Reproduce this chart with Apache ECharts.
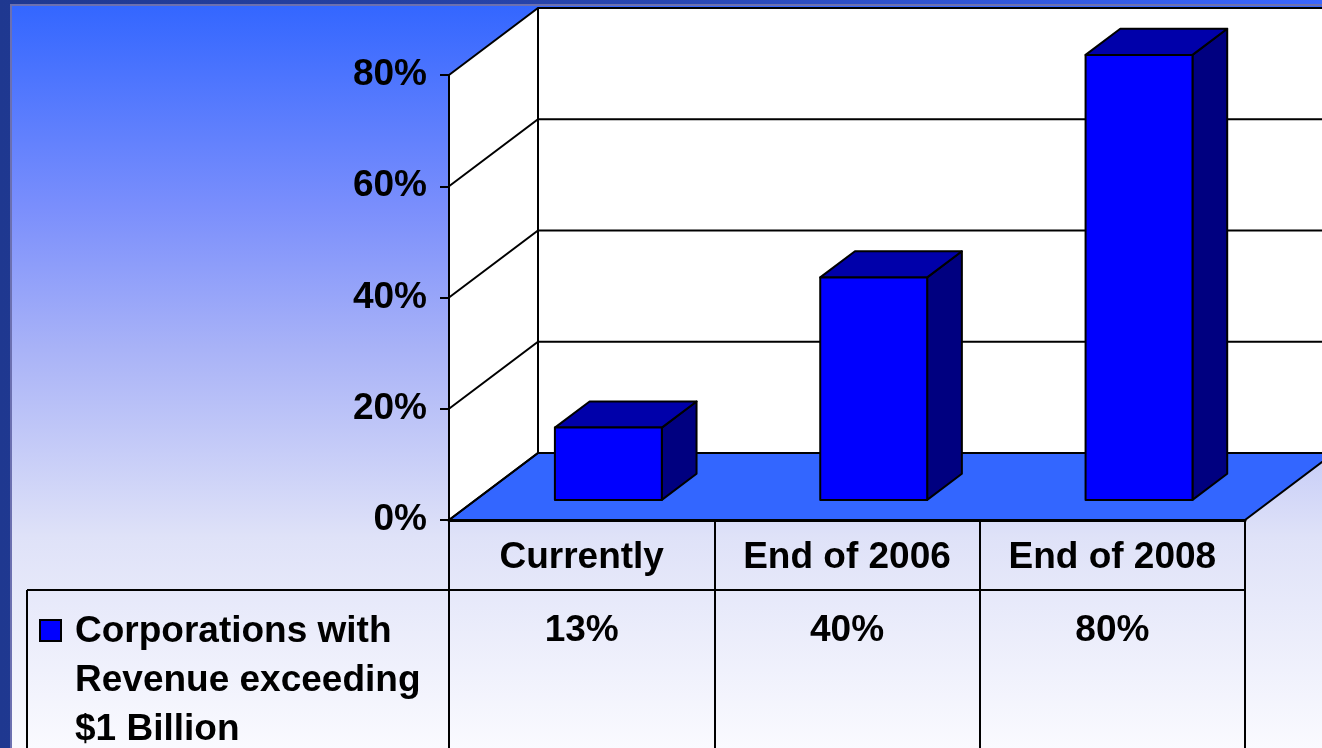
<!DOCTYPE html>
<html><head><meta charset="utf-8">
<script src="https://cdn.jsdelivr.net/npm/echarts@6/dist/echarts.min.js"></script>
<style>html,body{margin:0;padding:0;background:#fff}#c{width:1322px;height:748px}</style>
</head><body><div id="c"></div>
<script>
// ---- data ----
const categories = ['Currently', 'End of 2006', 'End of 2008'];
const values = [13, 40, 80];
const seriesName = 'Corporations with\nRevenue exceeding\n$1 Billion';
const yTicks = [0, 20, 40, 60, 80];

// ---- style constants ----
const DX = 89, DY = -67;            // depth of the 3D box
const FONT = '"Liberation Sans", Arial, sans-serif';
const FS = 37;
const BLACK = '#000';

const chart = echarts.init(document.getElementById('c'), null, { renderer: 'canvas' });

function edges(api) {
  const bw = api.size([1, 0])[0];
  const xL = api.coord([0, 0])[0] - bw / 2;
  const xR = api.coord([categories.length - 1, 0])[0] + bw / 2;
  return { bw, xL, xR };
}

function renderWalls(params, api) {
  const { xL, xR } = edges(api);
  const y0 = api.coord([0, 0])[1];
  const yMax = api.coord([0, yTicks[yTicks.length - 1]])[1];
  const children = [];
  children.push({ type: 'polygon', shape: { points: [[xL, yMax], [xL + DX, yMax + DY], [xL + DX, y0 + DY], [xL, y0]] },
    style: { fill: '#fff', stroke: null } });
  children.push({ type: 'rect', shape: { x: xL + DX, y: yMax + DY, width: xR - xL + 40, height: y0 - yMax },
    style: { fill: '#fff', stroke: null } });
  children.push({ type: 'polygon', shape: { points: [[xL, y0], [xL + DX, y0 + DY], [xR + DX, y0 + DY], [xR, y0]] },
    style: { fill: '#3366ff', stroke: BLACK, lineWidth: 2 } });
  yTicks.forEach(v => {
    const y = api.coord([0, v])[1];
    children.push({ type: 'polyline', shape: { points: [[xL, y], [xL + DX, y + DY], [xR + DX + 40, y + DY]] },
      style: { stroke: BLACK, lineWidth: 2, fill: null } });
  });
  children.push({ type: 'line', shape: { x1: xL + DX, y1: yMax + DY, x2: xL + DX, y2: y0 + DY },
    style: { stroke: BLACK, lineWidth: 2 } });
  children.push({ type: 'line', shape: { x1: xL, y1: yMax, x2: xL, y2: y0 },
    style: { stroke: BLACK, lineWidth: 2 } });
  children.push({ type: 'line', shape: { x1: 27, y1: 590, x2: xR, y2: 590 }, style: { stroke: BLACK, lineWidth: 2 } });
  children.push({ type: 'line', shape: { x1: 27, y1: 590, x2: 27, y2: 760 }, style: { stroke: BLACK, lineWidth: 2 } });
  return { type: 'group', children };
}

function renderBar(params, api) {
  const idx = api.value(0), v = api.value(1);
  const top = api.coord([idx, v]);
  const base = api.coord([idx, 0]);
  const bw = api.size([1, 0])[0] * 0.403;
  const f1 = 0.3, f2 = 0.69;
  const ox = DX * f1, oy = DY * f1, dx = DX * (f2 - f1), dy = DY * (f2 - f1);
  const xl = top[0] - bw / 2 + ox, xr = top[0] + bw / 2 + ox;
  const yt = top[1] + oy, yb = base[1] + oy;
  const st = { stroke: BLACK, lineWidth: 2, lineJoin: 'round' };
  return { type: 'group', children: [
    { type: 'polygon', shape: { points: [[xr, yt], [xr + dx, yt + dy], [xr + dx, yb + dy], [xr, yb]] }, style: Object.assign({ fill: '#000080' }, st) },
    { type: 'polygon', shape: { points: [[xl, yt], [xl + dx, yt + dy], [xr + dx, yt + dy], [xr, yt]] }, style: Object.assign({ fill: '#0000aa' }, st) },
    { type: 'rect', shape: { x: xl, y: yt, width: bw, height: yb - yt }, style: Object.assign({ fill: '#0000ff' }, st) }
  ] };
}

function renderValues(params, api) {
  const idx = api.value(0), v = api.value(1);
  const x = api.coord([idx, 0])[0];
  return { type: 'text', style: { x: x, y: 631, text: v + '%', font: 'bold ' + FS + 'px ' + FONT, fill: BLACK, align: 'center', verticalAlign: 'middle' } };
}

const barData = values.map((v, i) => [i, v]);

chart.setOption({
  animation: false,
  backgroundColor: 'transparent',
  graphic: [
    { type: 'rect', z: -20, silent: true, shape: { x: 0, y: 0, width: 1322, height: 748 },
      style: { fill: new echarts.graphic.LinearGradient(0, 0, 1, 0, [
        { offset: 0, color: '#1f3890' }, { offset: 0.5, color: '#2846b0' }, { offset: 1, color: '#3a66ff' }]) } },
    { type: 'rect', z: -19, silent: true, shape: { x: 11, y: 5, width: 1330, height: 760 },
      style: { stroke: '#6c70b0', lineWidth: 2, fill: new echarts.graphic.LinearGradient(0, 0, 0, 1, [
        { offset: 0, color: '#3366ff' }, { offset: 0.27, color: '#7b8ffc' }, { offset: 0.45, color: '#a8b2f7' },
        { offset: 0.7, color: '#dfe2f8' }, { offset: 1, color: '#fcfcff' }]) } },
    { type: 'rect', z: 10, shape: { x: 40, y: 620, width: 21, height: 21 },
      style: { fill: '#0000ff', stroke: BLACK, lineWidth: 2 } },
    { type: 'text', z: 10, style: { x: 75, y: 607, text: seriesName, font: 'bold ' + FS + 'px ' + FONT, lineHeight: 49,
      fill: BLACK, verticalAlign: 'top', align: 'left' } }
  ],
  grid: { left: 449, right: 77, top: 75, bottom: 228, containLabel: false },
  xAxis: {
    type: 'category', data: categories, z: 5,
    axisLine: { show: true, lineStyle: { color: BLACK, width: 3 } },
    axisTick: { show: true, interval: 0, length: 240, lineStyle: { color: BLACK, width: 2 } },
    axisLabel: { interval: 0, hideOverlap: false, margin: 38, verticalAlign: 'middle', fontSize: FS, fontWeight: 'bold', fontFamily: FONT, color: BLACK },
    splitLine: { show: false }
  },
  yAxis: {
    type: 'value', min: 0, max: 80, interval: 20, z: 5,
    axisLine: { show: true, lineStyle: { color: BLACK, width: 2 } },
    axisTick: { show: true, length: 9, lineStyle: { color: BLACK, width: 2 } },
    axisLabel: { margin: 22, formatter: '{value}%', fontSize: FS, fontWeight: 'bold', fontFamily: FONT, color: BLACK },
    splitLine: { show: false }
  },
  series: [
    { type: 'custom', name: 'walls', z: 1, clip: false, silent: true, data: [[0, 0]], renderItem: renderWalls },
    { type: 'custom', name: seriesName, z: 3, clip: false, data: barData, renderItem: renderBar },
    { type: 'custom', name: 'tableValues', z: 3, clip: false, silent: true, data: barData, renderItem: renderValues }
  ]
});
</script></body></html>
